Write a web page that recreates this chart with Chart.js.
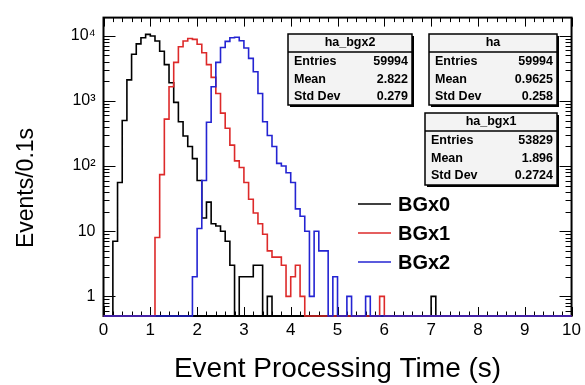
<!DOCTYPE html>
<html><head><meta charset="utf-8">
<script src="https://cdn.jsdelivr.net/npm/chart.js@4.4.1/dist/chart.umd.min.js"></script>
<style>html,body{margin:0;padding:0;background:#fff;}#wrap{width:585px;height:385px;}</style>
</head><body><div id="wrap"><canvas id="c" width="585" height="385"></canvas></div>
<script>
// ---- data ----
const binWidth = 0.1;           // s per bin
const seriesNames = ['BGx0', 'BGx1', 'BGx2'];
const bgx0 = [
  0,0,7,56,500,2100,5200,7500,9300,10500,
  9900,8300,5800,3600,1900,950,480,290,200,130,
  60,16,28,13,12,10,7,3,0,2,
  2,2,3,3,0,1,0,0,0,0,
  0,0,0,0,0,0,0,0,0,0,
  0,0,0,0,0,0,0,0,0,0,
  0,0,0,0,0,0,0,0,0,0,
  1,0,0,0,0,0,0,0,0,0,
  0,0,0,0,0,0,0,0,0,0,
  0,0,0,0,0,0,0,0,0,0];
const bgx1 = [
  0,0,0,0,0,0,0,0,0,0,
  0,8,74,525,1650,3900,6800,8300,9100,8800,
  7400,5500,3600,2300,1300,650,380,210,120,95,
  56,31,19,13,9,5,4,4,3,1,
  2,3,1,0,0,0,0,0,0,0,
  0,0,0,0,0,0,0,0,0,1,
  0,0,0,0,0,0,0,0,0,0,
  0,0,0,0,0,0,0,0,0,0,
  0,0,0,0,0,0,0,0,0,0,
  0,0,0,0,0,0,0,0,0,0];
const bgx2 = [
  0,0,0,0,0,0,0,0,0,0,
  0,0,0,0,0,0,0,0,0,2,
  11,60,470,1650,3900,6600,8200,9300,9500,8400,
  6500,4500,2800,1300,480,295,200,110,100,79,
  56,22,17,10,1,10,5,5,0,2,
  0,0,1,0,0,0,1,0,0,0,
  0,0,0,0,0,0,0,0,0,0,
  0,0,0,0,0,0,0,0,0,0,
  0,0,0,0,0,0,0,0,0,0,
  0,0,0,0,0,0,0,0,0,0];
const xTickValues = [0,1,2,3,4,5,6,7,8,9,10];
const yTickValues = [1,10,100,1000,10000];
const yTickLabels = ['1','10','10\u00B2','10\u00B3','10\u2074'];
const statNames = ['ha_bgx2','ha','ha_bgx1'];
const statEntries = ['59994','59994','53829'];
const statMeans = ['2.822','0.9625','1.896'];
const statStdDevs = ['0.279','0.258','0.2724'];

// ---- style ----
const F = "'Liberation Sans', Arial, Helvetica, sans-serif";
const YMIN = 0.5, YMAX = 19000, XMIN = 0, XMAX = 10;
const colors = ['#000000', '#dd2a2a', '#2424d2'];
const statPos = [ {x:288,y:34,w:124,h:71}, {x:429,y:34,w:128,h:71}, {x:425,y:113,w:132,h:72} ];
const legendPos = {x1:358, x2:391, tx:398, ys:[204,233,262]};

function histPoints(vals){
  const pts = [];
  vals.forEach((v,k)=>{
    const y = v > 0 ? v : YMIN;
    pts.push({x:k*binWidth, y:y});
    pts.push({x:(k+1)*binWidth, y:y});
  });
  return pts;
}
const allSeries = [bgx0, bgx1, bgx2];

const decor = {
  id:'decor',
  beforeDatasetsDraw(chart){
    const ctx = chart.ctx, a = chart.chartArea, xs = chart.scales.x, ys = chart.scales.y;
    ctx.save();
    ctx.strokeStyle = '#000'; ctx.lineWidth = 1;
    // x ticks (bottom & top)
    for (let i = 0; i <= 50; i++){
      const v = i*0.2; const px = Math.round(xs.getPixelForValue(v)) + 0.5;
      const major = (i % 5 === 0); const L = major ? 9 : 4.5;
      ctx.beginPath(); ctx.moveTo(px, a.bottom); ctx.lineTo(px, a.bottom - L);
      ctx.moveTo(px, a.top); ctx.lineTo(px, a.top + L); ctx.stroke();
    }
    // y ticks (left & right)
    for (let e = -1; e <= 4; e++){
      for (let m = 1; m <= 9; m++){
        const v = m*Math.pow(10,e);
        if (v < YMIN || v > YMAX) continue;
        const py = Math.round(ys.getPixelForValue(v)) + 0.5;
        const L = (m === 1) ? 12 : 6;
        ctx.beginPath(); ctx.moveTo(a.left, py); ctx.lineTo(a.left + L, py);
        ctx.moveTo(a.right, py); ctx.lineTo(a.right - L, py); ctx.stroke();
      }
    }
    ctx.lineWidth = 2;
    ctx.strokeRect(a.left, a.top, a.right - a.left, a.bottom - a.top);
    ctx.restore();
  },
  afterDraw(chart){
    const ctx = chart.ctx;
    ctx.save();
    // y axis title
    ctx.fillStyle = '#000';
    ctx.font = "23px " + F; ctx.textAlign = 'center'; ctx.textBaseline = 'middle';
    ctx.translate(27, 188); ctx.rotate(-Math.PI/2);
    ctx.fillText('Events/0.1s', 0, 0);
    ctx.restore();
    // stat boxes
    for (let i = 0; i < statNames.length; i++){
      const p = statPos[i];
      ctx.save();
      ctx.fillStyle = '#000'; ctx.fillRect(p.x + 2, p.y + 2, p.w, p.h);
      ctx.fillStyle = '#f3f3f3'; ctx.fillRect(p.x, p.y, p.w, p.h);
      ctx.strokeStyle = '#000'; ctx.lineWidth = 1.5; ctx.strokeRect(p.x, p.y, p.w, p.h);
      ctx.beginPath(); ctx.moveTo(p.x, p.y + 18); ctx.lineTo(p.x + p.w, p.y + 18); ctx.stroke();
      ctx.fillStyle = '#000'; ctx.textBaseline = 'middle';
      ctx.font = "bold 12.5px " + F; ctx.textAlign = 'center';
      ctx.fillText(statNames[i], p.x + p.w/2, p.y + 9);
      const rows = [['Entries', statEntries[i]], ['Mean', statMeans[i]], ['Std Dev', statStdDevs[i]]];
      rows.forEach((r, j) => {
        const ty = p.y + 28 + j*17.5;
        ctx.textAlign = 'left'; ctx.fillText(r[0], p.x + 6, ty);
        ctx.textAlign = 'right'; ctx.fillText(r[1], p.x + p.w - 4, ty);
      });
      ctx.restore();
    }
    // legend
    ctx.save();
    chart.data.datasets.forEach((ds, i) => {
      const y = legendPos.ys[i];
      ctx.strokeStyle = ds.borderColor; ctx.lineWidth = 1.6;
      ctx.beginPath(); ctx.moveTo(legendPos.x1, y); ctx.lineTo(legendPos.x2, y); ctx.stroke();
      ctx.fillStyle = '#000'; ctx.font = "bold 20px " + F; ctx.textAlign = 'left'; ctx.textBaseline = 'middle';
      ctx.fillText(ds.label, legendPos.tx, y + 1);
    });
    ctx.restore();
  }
};

const pad = {left:10, right:10, top:10, bottom:0};
const chart = new Chart(document.getElementById('c'), {
  type: 'line',
  data: {
    datasets: allSeries.map((s, i) => ({
      label: seriesNames[i], data: histPoints(s), borderColor: colors[i], backgroundColor: colors[i],
      borderWidth: 1.6, pointRadius: 0, tension: 0, fill: false, clip: false, order: 2 - i
    }))
  },
  options: {
    responsive: false, animation: false, devicePixelRatio: 1,
    layout: { padding: pad },
    plugins: { legend: {display:false}, tooltip: {enabled:false} },
    scales: {
      x: {
        type: 'linear', min: XMIN, max: XMAX,
        afterBuildTicks: s => { s.ticks = xTickValues.map(v => ({value: v})); },
        ticks: { autoSkip:false, maxRotation:0, color:'#000', font:{family:F, size:17}, padding: 4,
                 callback: v => String(v) },
        grid: { display:false, drawTicks:false }, border: { display:false },
        title: { display:true, text:'Event Processing Time (s)', color:'#000', font:{family:F, size:28}, padding:{top:8, bottom:0} }
      },
      y: {
        type: 'logarithmic', min: YMIN, max: YMAX,
        afterBuildTicks: s => { s.ticks = yTickValues.map(v => ({value: v})); },
        ticks: { autoSkip:false, color:'#000', font:{family:F, size:16}, padding: 8,
                 callback: v => { const i = yTickValues.indexOf(v); return i >= 0 ? yTickLabels[i] : ''; } },
        grid: { display:false, drawTicks:false }, border: { display:false },
        title: { display:false }
      }
    }
  },
  plugins: [decor]
});
const target = {left:103.5, right:575.5, top:10, bottom:316};
for (let it = 0; it < 4; it++){
  const a = chart.chartArea;
  pad.left += target.left - a.left; pad.right += a.right - target.right;
  pad.top += target.top - a.top; pad.bottom += a.bottom - target.bottom;
  chart.options.layout.padding = {left:pad.left, right:pad.right, top:pad.top, bottom:pad.bottom};
  chart.update();
}
</script></body></html>
